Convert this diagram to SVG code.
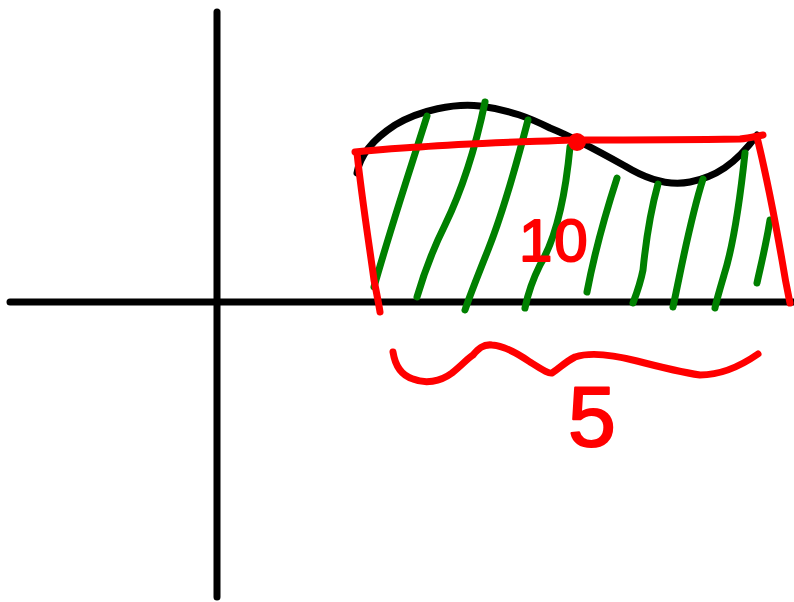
<svg xmlns="http://www.w3.org/2000/svg" width="794" height="602" viewBox="0 0 794 602">
<style>
.ax{stroke:#000;stroke-width:7;fill:none;stroke-linecap:round}
.cv{stroke:#000;stroke-width:7;fill:none;stroke-linecap:round;stroke-linejoin:round}
.rd{stroke:#f00;stroke-width:7;fill:none;stroke-linecap:round;stroke-linejoin:round}
.gr{stroke:#008000;stroke-width:7;fill:none;stroke-linecap:round;stroke-linejoin:round}
.lb{fill:#f00;stroke:#f00;stroke-width:2;stroke-linejoin:round;font-family:"Liberation Sans",Arial,sans-serif}
</style>
<rect width="794" height="602" fill="#fff"/>
<g id="axes">
<path class="ax" d="M10 302 L794 302"/>
<path class="ax" d="M217 12 L217 597"/>
</g>
<g id="curve">
<path class="cv" d="M357 173 C360 155 375 138 395 125 C420 110 455 103 480 106 C510 110 530 118 550 128 C575 138 600 152 625 166 C648 180 670 186 690 182 C715 177 735 165 757 135"/>
</g>
<g id="hatching">
<path class="gr" d="M427 116 C410 170 390 230 374 287"/>
<path class="gr" d="M485 102 C475 150 462 190 445 225 C430 255 422 280 417 297"/>
<path class="gr" d="M528 120 C515 170 500 220 488 250 C478 275 470 295 465 310"/>
<path class="gr" d="M570 147 C565 200 555 240 540 265 C530 285 527 298 525 308"/>
<path class="gr" d="M617 178 C605 215 595 250 587 292"/>
<path class="gr" d="M658 184 C648 220 645 250 643 270 C640 285 636 295 633 303"/>
<path class="gr" d="M703 179 C690 220 683 260 673 307"/>
<path class="gr" d="M745 153 C740 200 732 250 724 275 C719 292 716 302 715 308"/>
<path class="gr" d="M770 220 C766 245 762 260 757 283"/>
</g>
<g id="region">
<path class="rd" d="M355 152 C375 150 395 148 420 147 C470 143 520 142 573 140 C620 140 680 140 740 139 C750 138 757 136 763 135"/>
<path class="rd" d="M357 153 C362 200 370 250 374 280 C377 295 379 305 380 312"/>
<path class="rd" d="M757 137 C765 170 775 220 782 260 C786 285 789 298 790 303"/>
<circle cx="577" cy="142" r="9" fill="#f00"/>
</g>
<g id="brace">
<path class="rd" d="M393 352 C395 365 400 375 413 379 C425 384 440 382 452 373 C462 365 468 358 473 355 C478 349 483 344 492 345 C505 346 520 355 530 362 C540 368 548 374 552 373 C560 368 565 362 575 357 C590 352 610 354 637 361 C660 367 680 372 700 375 C715 375 735 370 758 354"/>
</g>
<g id="labels">
<text class="lb" x="519" y="261" font-size="60" letter-spacing="2">10</text>
<text class="lb" x="568" y="446" font-size="86">5</text>
</g>
</svg>
